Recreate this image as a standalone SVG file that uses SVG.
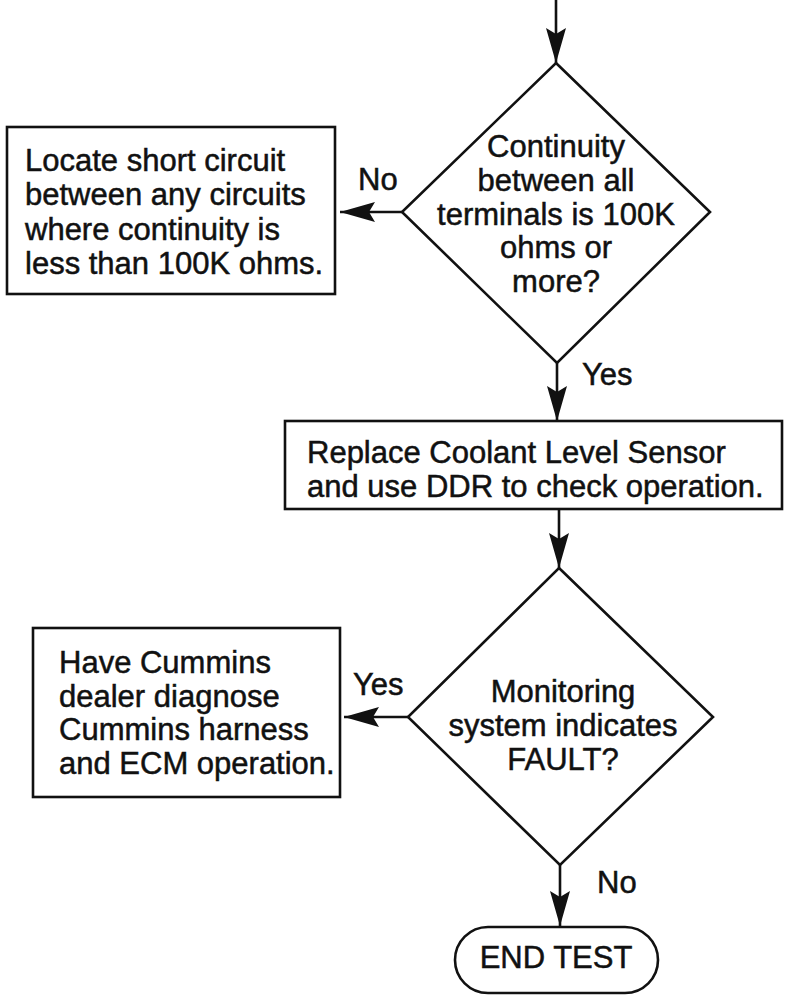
<svg xmlns="http://www.w3.org/2000/svg" width="800" height="1004" viewBox="0 0 800 1004">
<style>
  .shape { fill: #ffffff; stroke: #111111; stroke-width: 2.6; }
  .conn { fill: none; stroke: #111111; stroke-width: 2.6; }
  .t { font-family: "Liberation Sans", Arial, sans-serif; font-size: 31px; fill: #111111; stroke: #111111; stroke-width: 0.5; }
  .c { text-anchor: middle; }
</style>
<defs>
  <marker id="arrow" markerUnits="userSpaceOnUse" markerWidth="36" markerHeight="20" refX="35" refY="10" orient="auto">
    <path d="M0,0 L35,10 L0,20 L6,10 z" fill="#111111"/>
  </marker>
</defs>
<rect width="800" height="1004" fill="#ffffff"/>

<g id="connectors">
  <line class="conn" x1="556" y1="0" x2="556" y2="63" marker-end="url(#arrow)"/>
  <line class="conn" x1="402" y1="212" x2="340" y2="212" marker-end="url(#arrow)"/>
  <line class="conn" x1="557" y1="363" x2="557" y2="421" marker-end="url(#arrow)"/>
  <line class="conn" x1="559" y1="509" x2="559" y2="568" marker-end="url(#arrow)"/>
  <line class="conn" x1="408" y1="717" x2="344" y2="717" marker-end="url(#arrow)"/>
  <line class="conn" x1="560" y1="865" x2="560" y2="926" marker-end="url(#arrow)"/>
  <text class="t" x="358" y="190">No</text>
  <text class="t" x="582" y="385">Yes</text>
  <text class="t" x="353" y="695">Yes</text>
  <text class="t" x="597" y="893">No</text>
</g>

<g id="decision1">
  <polygon class="shape" points="556,63 710,212 557,363 402,212"/>
  <text class="t c" x="556" y="157">Continuity</text>
  <text class="t c" x="556" y="190.5">between all</text>
  <text class="t c" x="556" y="225">terminals is 100K</text>
  <text class="t c" x="556" y="258">ohms or</text>
  <text class="t c" x="556" y="292">more?</text>
</g>

<g id="short-circuit">
  <rect class="shape" x="7" y="127" width="328" height="167"/>
  <text class="t" x="25" y="171">Locate short circuit</text>
  <text class="t" x="25" y="205">between any circuits</text>
  <text class="t" x="25" y="240">where continuity is</text>
  <text class="t" x="25" y="274">less than 100K ohms.</text>
</g>

<g id="replace-sensor">
  <rect class="shape" x="285" y="421" width="497" height="88"/>
  <text class="t" x="307" y="463">Replace Coolant Level Sensor</text>
  <text class="t" x="307" y="497">and use DDR to check operation.</text>
</g>

<g id="decision2">
  <polygon class="shape" points="559,568 713,717 560,865 408,717"/>
  <text class="t c" x="563" y="702">Monitoring</text>
  <text class="t c" x="563" y="736">system indicates</text>
  <text class="t c" x="563" y="770">FAULT?</text>
</g>

<g id="cummins-dealer">
  <rect class="shape" x="33" y="628" width="307" height="169"/>
  <text class="t" x="59" y="673">Have Cummins</text>
  <text class="t" x="59" y="706.5">dealer diagnose</text>
  <text class="t" x="59" y="740">Cummins harness</text>
  <text class="t" x="59" y="773.5">and ECM operation.</text>
</g>

<g id="end-test">
  <rect class="shape" x="455" y="927" width="203" height="66" rx="33" ry="33"/>
  <text class="t c" x="556" y="968">END TEST</text>
</g>
</svg>
